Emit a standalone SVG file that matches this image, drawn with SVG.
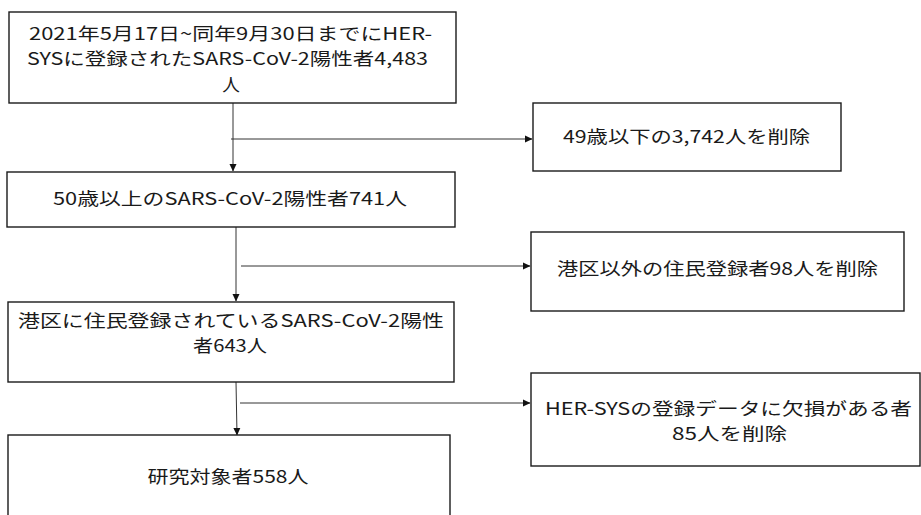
<svg xmlns="http://www.w3.org/2000/svg" width="921" height="515" viewBox="0 0 921 515">
<style>
.box{fill:#fff;stroke:#1a1a1a;stroke-width:1.4}
.t{font-family:"Noto Sans CJK JP","Noto Sans",sans-serif;font-size:17.6px;fill:#1a1a1a;text-anchor:middle}
.c{stroke:#333;stroke-width:1;fill:none}
</style>
<defs>
<marker id="ah" markerWidth="8" markerHeight="8" refX="7" refY="4" orient="auto" markerUnits="userSpaceOnUse">
<path d="M0,0.5 L7.5,4 L0,7.5 Z" fill="#111"/>
</marker>
</defs>
<g id="connectors">
<line class="c" x1="233" y1="103" x2="233" y2="171" marker-end="url(#ah)"/>
<line class="c" x1="231" y1="139" x2="532" y2="139" marker-end="url(#ah)"/>
<line class="c" x1="236" y1="227" x2="236" y2="301" marker-end="url(#ah)"/>
<line class="c" x1="241" y1="266" x2="530" y2="266" marker-end="url(#ah)"/>
<line class="c" x1="236" y1="382" x2="237" y2="435" marker-end="url(#ah)"/>
<line class="c" x1="240" y1="403" x2="530" y2="403" marker-end="url(#ah)"/>
</g>
<g id="n1">
<rect class="box" x="9" y="12" width="447" height="91"/>
<text class="t" x="230.5" y="39.5" textLength="403" lengthAdjust="spacingAndGlyphs">2021年5月17日~同年9月30日までにHER-</text>
<text class="t" x="227.5" y="65" textLength="401" lengthAdjust="spacingAndGlyphs">SYSに登録されたSARS-CoV-2陽性者4,483</text>
<text class="t" x="231" y="90.5">人</text>
</g>
<g id="n2">
<rect class="box" x="533" y="103" width="308" height="68"/>
<text class="t" x="686.5" y="143" textLength="247" lengthAdjust="spacingAndGlyphs">49歳以下の3,742人を削除</text>
</g>
<g id="n3">
<rect class="box" x="7" y="172" width="448" height="55"/>
<text class="t" x="230" y="205" textLength="354" lengthAdjust="spacingAndGlyphs">50歳以上のSARS-CoV-2陽性者741人</text>
</g>
<g id="n4">
<rect class="box" x="531" y="232" width="373" height="79"/>
<text class="t" x="717.5" y="275" textLength="321" lengthAdjust="spacingAndGlyphs">港区以外の住民登録者98人を削除</text>
</g>
<g id="n5">
<rect class="box" x="8" y="302" width="446" height="80"/>
<text class="t" x="231" y="326.5" textLength="426" lengthAdjust="spacingAndGlyphs">港区に住民登録されているSARS-CoV-2陽性</text>
<text class="t" x="230" y="352" textLength="74" lengthAdjust="spacingAndGlyphs">者643人</text>
</g>
<g id="n6">
<rect class="box" x="531" y="373" width="389" height="93"/>
<text class="t" x="728.5" y="414.5" textLength="367" lengthAdjust="spacingAndGlyphs">HER-SYSの登録データに欠損がある者</text>
<text class="t" x="729.5" y="440" textLength="115" lengthAdjust="spacingAndGlyphs">85人を削除</text>
</g>
<g id="n7">
<rect class="box" x="8" y="435" width="442" height="100"/>
<text class="t" x="228" y="483" textLength="161" lengthAdjust="spacingAndGlyphs">研究対象者558人</text>
</g>
</svg>
